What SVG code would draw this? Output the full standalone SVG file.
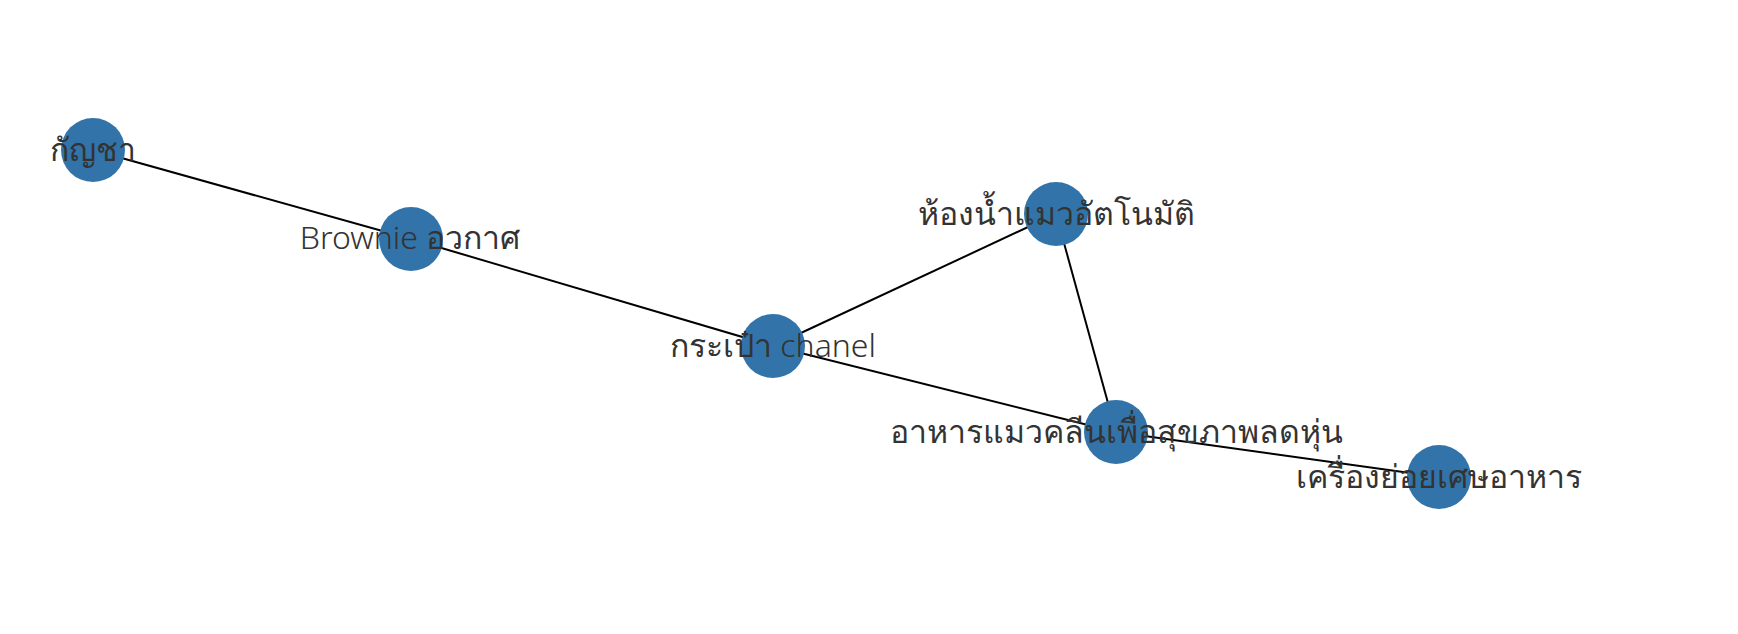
<svg xmlns="http://www.w3.org/2000/svg" width="1738" height="634" viewBox="0 0 1738 634">
<style>
.edge{stroke:#000;stroke-width:2;fill:none}
.node circle{fill:#3274a9}
.node text{font-family:"Noto Sans","DejaVu Sans",sans-serif;font-size:32px;font-weight:300;fill:#333;text-anchor:middle;dominant-baseline:central}
</style>
<rect width="1738" height="634" fill="#fff"/>
<g id="edges">
<line class="edge" x1="93" y1="150" x2="411" y2="239"/>
<line class="edge" x1="411" y1="239" x2="773" y2="346"/>
<line class="edge" x1="773" y1="346" x2="1056" y2="214"/>
<line class="edge" x1="773" y1="346" x2="1116" y2="432"/>
<line class="edge" x1="1056" y1="214" x2="1116" y2="432"/>
<line class="edge" x1="1116" y1="432" x2="1439" y2="477"/>
</g>
<g id="n1" class="node"><circle cx="93" cy="150" r="32"/><text x="93" y="148">กัญชา</text></g>
<g id="n2" class="node"><circle cx="411" cy="239" r="32"/><text x="410" y="236">Brownie อวกาศ</text></g>
<g id="n3" class="node"><circle cx="773" cy="346" r="32"/><text x="773" y="344">กระเป๋า chanel</text></g>
<g id="n4" class="node"><circle cx="1056" cy="214" r="32"/><text x="1056" y="212">ห้องน้ำแมวอัตโนมัติ</text></g>
<g id="n5" class="node"><circle cx="1116" cy="432" r="32"/><text x="1116" y="430">อาหารแมวคลีนเพื่อสุขภาพลดหุ่น</text></g>
<g id="n6" class="node"><circle cx="1439" cy="477" r="32"/><text x="1439" y="475">เครื่องย่อยเศษอาหาร</text></g>
</svg>
